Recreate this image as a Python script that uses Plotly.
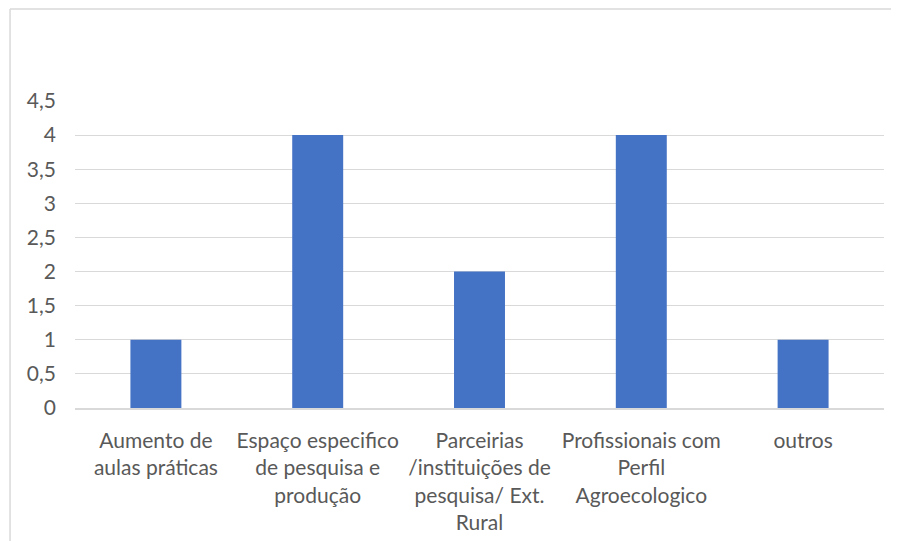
import plotly.graph_objects as go

categorias = [
    "Aumento de<br>aulas práticas",
    "Espaço especifico<br>de pesquisa e<br>produção",
    "Parceirias<br>/instituições de<br>pesquisa/ Ext.<br>Rural",
    "Profissionais com<br>Perfil<br>Agroecologico",
    "outros",
]
valores = [1, 4, 2, 4, 1]

cinza_texto = "#595959"
cinza_linha = "#d9d9d9"

fig = go.Figure(go.Bar(x=categorias, y=valores, marker_color="#4472C4",
                       marker_line_width=0))

# a página tem 8px de margem no body, por isso a figura é 8px menor
fig.update_layout(
    width=891, height=533,
    margin=dict(l=67, r=15, t=93, b=133),
    paper_bgcolor="white", plot_bgcolor="white",
    separators=",.",
    bargap=0.685,
    showlegend=False,
    font=dict(family="Lato, Carlito, sans-serif", size=21, color=cinza_texto),
)
fig.update_yaxes(range=[0, 4.5], dtick=0.5, showgrid=True, gridcolor=cinza_linha,
                 gridwidth=1, zeroline=False, showline=False, automargin=False,
                 ticks="", ticklabelstandoff=18)
fig.update_xaxes(showline=True, linecolor=cinza_linha, linewidth=1.5, ticks="",
                 automargin=False, ticklabelstandoff=13, tickangle=0)

# borda da área do gráfico (recortada à direita e embaixo)
fig.add_shape(type="line", xref="paper", yref="paper",
              x0=-0.0803, x1=-0.0803, y0=-0.5, y1=1.300,
              line=dict(color=cinza_linha, width=1.5))
fig.add_shape(type="line", xref="paper", yref="paper",
              x0=-0.0803, x1=1.1, y0=1.300, y1=1.300,
              line=dict(color=cinza_linha, width=1.5))

fig.write_html("out.html")
